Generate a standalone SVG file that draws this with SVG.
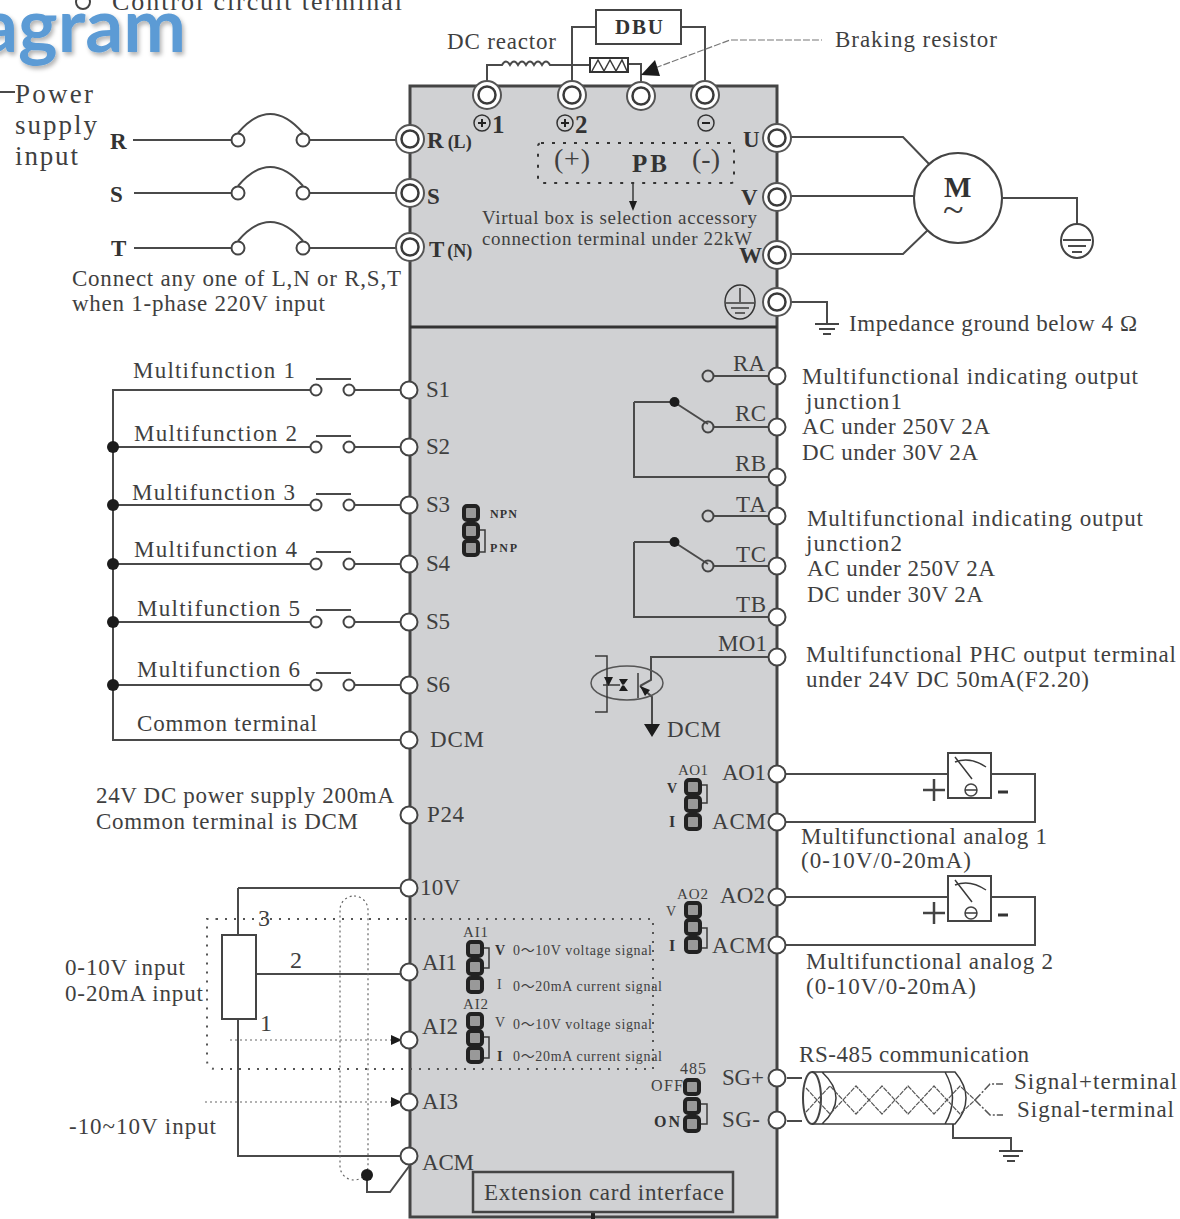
<svg xmlns="http://www.w3.org/2000/svg" width="1180" height="1219" viewBox="0 0 1180 1219" font-size="23">
<style>
text{font-family:"Liberation Serif","Noto Sans CJK SC",serif;fill:#3f3f3f}
.b{font-weight:bold;fill:#333}
.s{font-size:19px}
.xs{font-size:14px}
.w{fill:none;stroke:#4a4a4a;stroke-width:2}
.t{fill:none;stroke:#3a3a3a;stroke-width:1.5}
.dot{fill:none;stroke:#555;stroke-width:2;stroke-dasharray:2 7}
.fine{fill:none;stroke:#666;stroke-width:1.2;stroke-dasharray:2 3}
.blk{fill:#1c1c1c}
</style>
<defs>
<filter id="sh" x="-10%" y="-10%" width="120%" height="130%"><feDropShadow dx="2" dy="3" stdDeviation="2" flood-color="#000" flood-opacity=".3"/></filter>
<g id="t2"><circle r="14" fill="#fff" stroke="#555" stroke-width="2"/><circle r="8.5" fill="#fff" stroke="#3a3a3a" stroke-width="2.5"/></g>
<circle id="t1" r="8.5" fill="#fff" stroke="#444" stroke-width="2"/>
<circle id="c" r="6.5" fill="#fff" stroke="#444" stroke-width="2"/>
<circle id="cs" r="5.5" fill="none" stroke="#444" stroke-width="2"/>
<g id="sq"><rect x="-7" y="-7" width="14" height="14" rx="3" fill="#999" stroke="#222" stroke-width="4"/></g>
<g id="meter"><rect x="0" y="0" width="43" height="45" fill="#fff" stroke="#444" stroke-width="2"/><path d="M7 9Q22 3 38 14M7 4L24 26" class="t"/><circle cx="23" cy="37" r="6" fill="none" stroke="#444" stroke-width="1.5"/><path d="M17 37H29" class="t"/></g>
<g id="gnd"><path d="M-12 0H12M-8 5H8M-4 10H4" fill="none" stroke="#444" stroke-width="2"/></g>
</defs>

<g id="title">
<text x="-20" y="52" style="font-family:Lato,'Open Sans',sans-serif;font-weight:bold;font-size:75px;fill:#5b9bd5" filter="url(#sh)">agram</text>
<circle cx="83" cy="2" r="7" fill="#fff" stroke="#444" stroke-width="2"/>
<text x="112" y="10" font-size="26" textLength="290">Control circuit terminal</text>
</g>

<g id="inverter-panel">
<rect x="410" y="86" width="367" height="1131" fill="#d0d1d3" stroke="#444" stroke-width="3"/>
<path d="M410 327H777" stroke="#333" stroke-width="3" fill="none"/>
<path d="M593 1212V1219" stroke="#222" stroke-width="4" fill="none"/>
</g>

<g id="connectors">
<path class="w" d="M0 92H15"/>
<path class="w" d="M133 140H231M310 140H397M134 193H231M310 193H397M134 248H231M310 248H397"/>
<path class="w" d="M238 133Q270 95 303 133M238 186Q270 148 303 186M238 241Q270 203 303 241"/>
<path class="w" d="M487 82V65H502q4-7 8 0q4-7 8 0q4-7 8 0q4-7 8 0q4-7 8 0q4-7 8 0H590M628 64H641V82"/>
<path class="w" d="M596 27H572V82M681 27H705V82"/>
<path d="M655 68L730 40H822" fill="none" stroke="#777" stroke-width="1.2" stroke-dasharray="7 2"/>
<path class="w" d="M791 137H903L930 165M791 196H914M791 254H903L930 228"/>
<path class="w" d="M1003 198H1077V225M791 302H827V323"/>
<path class="w" d="M400 390H355M310 390H113V740H400M400 447H355M310 447H113M400 505H355M310 505H113M400 564H355M310 564H113M400 622H355M310 622H113M400 685H355M310 685H113"/>
<path class="w" d="M316 379H351M316 436H351M316 494H351M316 552H351M316 610H351M316 673H351"/>
<path class="w" d="M768 376H714M768 427H714M674 402L708 424M634 402H674M634 402V477H768M768 516H714M768 566H714M674 542L708 564M634 542H674M634 542V617H768"/>
<path class="w" d="M768 657H651V680L640 686M640 686L652 697V725"/>
<path class="w" d="M238 888H400M238 888V935M256 974H400M238 1019V1156H400M367 1175V1192H390L410 1165"/>
<path class="dot" d="M216 919H653V1069H216Q207 1069 207 1060V919H216"/>
<rect class="fine" x="340" y="896" width="28" height="284" rx="14"/>
<path class="fine" d="M230 1040H392M205 1102H392"/>
<path class="blk" d="M391 1035L402 1040L391 1045ZM391 1097L402 1102L391 1107Z"/>
<path class="w" d="M786 774H948M991 774H1035V822H786M786 897H948M991 897H1035V945H786"/>
<path class="w" d="M787 1078H802M787 1121H802M953 1124V1138H1011V1150"/>
<path d="M975 1100L990 1084H1003M975 1100L990 1115H1003" fill="none" stroke="#555" stroke-width="1.500" stroke-dasharray="8 2 2 2"/>
</g>

<g id="mains-R"><use href="#c" x="238" y="140"/><use href="#c" x="303" y="140"/><text x="110" y="149" class="b">R</text><use href="#t2" x="410" y="139"/><text x="427" y="148" class="b">R<tspan dx="4" font-size="18">(L)</tspan></text></g>
<g id="mains-S"><use href="#c" x="238" y="193"/><use href="#c" x="303" y="193"/><text x="110" y="202" class="b">S</text><use href="#t2" x="410" y="193"/><text x="427" y="204" class="b">S</text></g>
<g id="mains-T"><use href="#c" x="238" y="248"/><use href="#c" x="303" y="248"/><text x="111" y="256" class="b">T</text><use href="#t2" x="410" y="247"/><text x="429" y="257" class="b">T<tspan dx="3" font-size="18">(N)</tspan></text></g>
<g id="power-label"><text x="15" y="103" font-size="27" textLength="78">Power</text><text x="15" y="134" font-size="27" textLength="82">supply</text><text x="15" y="165" font-size="27" textLength="63">input</text>
<text x="72" y="286" font-size="23" textLength="329">Connect any one of  L,N or R,S,T</text><text x="72" y="311" font-size="23" textLength="253">when 1-phase 220V input</text></g>

<g id="dc-reactor"><text x="447" y="49" font-size="23" textLength="109">DC reactor</text></g>
<g id="braking-resistor"><rect x="590" y="58" width="38" height="14" fill="#fff" stroke="#333" stroke-width="2"/><path class="t" d="M592 71L598 60L604 71L610 60L616 71L622 60L627 71"/><path class="blk" d="M641 75L660 76L655 60Z"/><text x="835" y="47" font-size="23" textLength="162">Braking resistor</text></g>
<g id="dbu"><rect x="596" y="10" width="85" height="34" fill="#fff" stroke="#444" stroke-width="2"/><text x="615" y="34" class="b" font-size="21" textLength="48">DBU</text></g>

<g id="term-p1"><use href="#t2" x="487" y="95"/><circle cx="482" cy="123" r="8" fill="none" stroke="#333" stroke-width="1.500"/><path d="M478 123H486M482 119V127" stroke="#222" stroke-width="2"/><text x="492" y="133" class="b" font-size="25">1</text></g>
<g id="term-p2"><use href="#t2" x="572" y="95"/><circle cx="565" cy="123" r="8" fill="none" stroke="#333" stroke-width="1.500"/><path d="M561 123H569M565 119V127" stroke="#222" stroke-width="2"/><text x="575" y="133" class="b" font-size="25">2</text></g>
<g id="term-pb"><use href="#t2" x="641" y="96"/></g>
<g id="term-n"><use href="#t2" x="705" y="95"/><circle cx="706" cy="123" r="8" fill="none" stroke="#333" stroke-width="1.500"/><path d="M702 123H710" stroke="#222" stroke-width="2"/></g>

<g id="virtual-box">
<rect x="538" y="143" width="196" height="40" rx="3" fill="none" stroke="#333" stroke-width="2" stroke-dasharray="3 8"/>
<text x="554" y="168" font-size="28" textLength="36">(+)</text><text x="632" y="172" class="b" font-size="25" textLength="35">PB</text><text x="692" y="168" font-size="28" textLength="28">(-)</text>
<path class="t" d="M633 184V203"/><path class="blk" d="M629 201H637L633 211Z"/>
<text x="482" y="224" class="s" textLength="275">Virtual box is selection accessory</text><text x="482" y="245" class="s" textLength="270">connection terminal under 22kW</text>
</g>

<g id="term-U"><use href="#t2" x="777" y="138"/><text x="743" y="147" class="b">U</text></g>
<g id="term-V"><use href="#t2" x="777" y="197"/><text x="741" y="205" class="b">V</text></g>
<g id="term-W"><use href="#t2" x="777" y="255"/><text x="739" y="263" class="b">W</text></g>
<g id="term-PE"><use href="#t2" x="777" y="302"/><ellipse cx="740" cy="302" rx="15" ry="17" fill="none" stroke="#333" stroke-width="1.500"/><path class="t" d="M740 288V302M726 303H754M731 308H749M735 313H745"/><use href="#gnd" x="827" y="324"/><text x="849" y="331" font-size="23" textLength="288">Impedance ground below 4 Ω</text></g>
<g id="motor"><ellipse cx="958" cy="198" rx="44" ry="45" fill="#fff" stroke="#444" stroke-width="2"/><text x="944" y="197" class="b" font-size="29">M</text><text x="943" y="222" font-size="38">~</text></g>
<g id="motor-ground"><ellipse cx="1077" cy="241" rx="16" ry="17" fill="none" stroke="#444" stroke-width="2"/><path class="w" d="M1063 240H1091M1068 246H1086M1072 252H1082"/></g>

<g id="S1"><use href="#cs" x="316" y="390"/><use href="#cs" x="349" y="390"/><use href="#t1" x="409" y="390"/><text x="133" y="378" font-size="23" textLength="162">Multifunction  1</text><text x="426" y="397" font-size="23" textLength="24">S1</text></g>
<g id="S2"><use href="#cs" x="316" y="447"/><use href="#cs" x="349" y="447"/><use href="#t1" x="409" y="447"/><circle class="blk" cx="113" cy="447" r="6"/><text x="134" y="441" font-size="23" textLength="163">Multifunction  2</text><text x="426" y="454" font-size="23" textLength="24">S2</text></g>
<g id="S3"><use href="#cs" x="316" y="505"/><use href="#cs" x="349" y="505"/><use href="#t1" x="409" y="505"/><circle class="blk" cx="113" cy="505" r="6"/><text x="132" y="500" font-size="23" textLength="163">Multifunction  3</text><text x="426" y="512" font-size="23" textLength="24">S3</text></g>
<g id="S4"><use href="#cs" x="316" y="564"/><use href="#cs" x="349" y="564"/><use href="#t1" x="409" y="564"/><circle class="blk" cx="113" cy="564" r="6"/><text x="134" y="557" font-size="23" textLength="163">Multifunction  4</text><text x="426" y="571" font-size="23" textLength="24">S4</text></g>
<g id="S5"><use href="#cs" x="316" y="622"/><use href="#cs" x="349" y="622"/><use href="#t1" x="409" y="622"/><circle class="blk" cx="113" cy="622" r="6"/><text x="137" y="616" font-size="23" textLength="163">Multifunction  5</text><text x="426" y="629" font-size="23" textLength="24">S5</text></g>
<g id="S6"><use href="#cs" x="316" y="685"/><use href="#cs" x="349" y="685"/><use href="#t1" x="409" y="685"/><circle class="blk" cx="113" cy="685" r="6"/><text x="137" y="677" font-size="23" textLength="163">Multifunction  6</text><text x="426" y="692" font-size="23" textLength="24">S6</text></g>
<g id="DCM"><use href="#t1" x="409" y="740"/><text x="137" y="731" font-size="23" textLength="180">Common terminal</text><text x="430" y="747" font-size="23" textLength="54">DCM</text></g>
<g id="P24"><use href="#t1" x="409" y="815"/><text x="96" y="803" font-size="23" textLength="298">24V DC power supply 200mA</text><text x="96" y="829" font-size="23" textLength="262">Common terminal is DCM</text><text x="427" y="822" font-size="23" textLength="37">P24</text></g>

<g id="npn-jumper"><use href="#sq" x="471" y="513"/><use href="#sq" x="471" y="531"/><use href="#sq" x="471" y="548"/><path class="t" d="M480 530H485V552H480"/><text x="490" y="518" class="b" font-size="12" textLength="27">NPN</text><text x="490" y="552" class="b" font-size="12" textLength="27">PNP</text></g>

<g id="R1-relay"><use href="#cs" x="708" y="376"/><use href="#cs" x="708" y="427"/><circle class="blk" cx="674.500" cy="402" r="5"/>
<use href="#t1" x="777" y="376"/><use href="#t1" x="777" y="427"/><use href="#t1" x="777" y="477"/>
<text x="733" y="371" textLength="32">RA</text><text x="735" y="421" textLength="31">RC</text><text x="735" y="471" textLength="31">RB</text>
<text x="802" y="384" font-size="23" textLength="336">Multifunctional indicating output</text><text x="806" y="409" font-size="23" textLength="96">junction1</text><text x="802" y="434" font-size="23" textLength="188">AC under 250V 2A</text><text x="802" y="460" font-size="23" textLength="176">DC under 30V 2A</text></g>
<g id="T-relay"><use href="#cs" x="708" y="516"/><use href="#cs" x="708" y="566"/><circle class="blk" cx="674.500" cy="542" r="5"/>
<use href="#t1" x="777" y="516"/><use href="#t1" x="777" y="566"/><use href="#t1" x="777" y="617"/>
<text x="736" y="512" textLength="30">TA</text><text x="736" y="562" textLength="30">TC</text><text x="736" y="612" textLength="30">TB</text>
<text x="807" y="526" font-size="23" textLength="336">Multifunctional indicating output</text><text x="806" y="551" font-size="23" textLength="96">junction2</text><text x="807" y="576" font-size="23" textLength="188">AC under 250V 2A</text><text x="807" y="602" font-size="23" textLength="176">DC under 30V 2A</text></g>
<g id="MO1"><use href="#t1" x="777" y="657"/>
<ellipse cx="627" cy="683" rx="36" ry="17" fill="none" stroke="#555" stroke-width="1.500"/>
<path class="t" d="M595 656H607V712H595M603 685H620M638 673V698"/>
<path class="blk" d="M604 677H613L608.500 686ZM619 679L628 679L623 686ZM619 691H628L623 684ZM640 686L650 690L645 696Z M644 724H660L652 737Z"/>
<text x="718" y="651" textLength="49">MO1</text>
<text x="667" y="737" font-size="23" textLength="54">DCM</text>
<text x="806" y="662" font-size="23" textLength="370">Multifunctional PHC output terminal</text><text x="806" y="687" font-size="23" textLength="283">under 24V DC 50mA(F2.20)</text></g>

<g id="AO1"><use href="#sq" x="693" y="787"/><use href="#sq" x="693" y="804"/><use href="#sq" x="693" y="822"/><path class="t" d="M702 785H707V803H702"/><text x="678" y="775" font-size="15" textLength="30">AO1</text><text x="667" y="793" class="xs b">V</text><text x="669" y="827" class="b" font-size="16">I</text>
<use href="#t1" x="777" y="774"/><use href="#t1" x="777" y="822"/><text x="722" y="780" textLength="44">AO1</text><text x="712" y="829" textLength="54">ACM</text>
<use href="#meter" x="948" y="753"/><path d="M923 790H945M934 779V801" stroke="#444" stroke-width="2.500"/><path d="M998 792H1008" stroke="#333" stroke-width="3"/>
<text x="801" y="844" font-size="23" textLength="246">Multifunctional analog 1</text><text x="801" y="868" font-size="23" textLength="170">(0-10V/0-20mA)</text></g>
<g id="AO2"><use href="#sq" x="693" y="910"/><use href="#sq" x="693" y="927"/><use href="#sq" x="693" y="945"/><path class="t" d="M702 928H707V948H702"/><text x="677" y="899" font-size="15" textLength="31">AO2</text><text x="666" y="916" class="xs">V</text><text x="669" y="951" class="b" font-size="16">I</text>
<use href="#t1" x="777" y="897"/><use href="#t1" x="777" y="945"/><text x="720" y="903" textLength="45">AO2</text><text x="712" y="953" textLength="54">ACM</text>
<use href="#meter" x="948" y="876"/><path d="M923 913H945M934 902V924" stroke="#444" stroke-width="2.500"/><path d="M998 915H1008" stroke="#333" stroke-width="3"/>
<text x="806" y="969" font-size="23" textLength="247">Multifunctional analog 2</text><text x="806" y="994" font-size="23" textLength="170">(0-10V/0-20mA)</text></g>

<g id="potentiometer"><rect x="222" y="935" width="34" height="84" fill="#fff" stroke="#444" stroke-width="2"/><text x="258" y="926" font-size="24">3</text><text x="290" y="968" font-size="24">2</text><text x="260" y="1031" font-size="24">1</text>
<text x="65" y="975" font-size="23" textLength="120">0-10V input</text><text x="65" y="1001" font-size="23" textLength="138">0-20mA input</text><text x="69" y="1134" font-size="23" textLength="147">-10~10V input</text></g>
<g id="T10V"><use href="#t1" x="409" y="888"/><text x="420" y="895" font-size="23" textLength="40">10V</text></g>
<g id="AI1"><use href="#t1" x="409" y="972"/><text x="422" y="970" textLength="35">AI1</text><use href="#sq" x="475" y="949"/><use href="#sq" x="475" y="967"/><use href="#sq" x="475" y="985"/><path class="t" d="M484 948H489V968H484"/><text x="463" y="937" font-size="15" textLength="25">AI1</text><text x="495" y="955" class="xs b">V</text><text x="497" y="989" class="xs">I</text><text x="513" y="955" class="xs" textLength="139">0〜10V voltage signal</text><text x="513" y="991" class="xs" textLength="149">0〜20mA current signal</text></g>
<g id="AI2"><use href="#t1" x="409" y="1040"/><text x="422" y="1034" textLength="36">AI2</text><use href="#sq" x="475" y="1021"/><use href="#sq" x="475" y="1038"/><use href="#sq" x="475" y="1055"/><path class="t" d="M484 1037H489V1058H484"/><text x="463" y="1009" font-size="15" textLength="25">AI2</text><text x="495" y="1027" class="xs">V</text><text x="497" y="1061" class="xs b">I</text><text x="513" y="1029" class="xs" textLength="139">0〜10V voltage signal</text><text x="513" y="1061" class="xs" textLength="149">0〜20mA current signal</text></g>
<g id="AI3"><use href="#t1" x="409" y="1102"/><text x="422" y="1109" textLength="36">AI3</text></g>
<g id="ACM-left"><use href="#t1" x="409" y="1156"/><circle class="blk" cx="367" cy="1175" r="6"/><text x="422" y="1170" textLength="52">ACM</text></g>
<g id="extension-card"><rect x="473" y="1172" width="260" height="40" fill="none" stroke="#444" stroke-width="2.500"/><text x="484" y="1200" font-size="23" textLength="240">Extension card interface</text></g>

<g id="rs485-switch"><use href="#sq" x="692" y="1087"/><use href="#sq" x="692" y="1106"/><use href="#sq" x="692" y="1124"/><path class="t" d="M701 1104H707V1124H701"/><text x="680" y="1074" font-size="16" textLength="26">485</text><text x="651" y="1091" font-size="16" textLength="32">OFF</text><text x="654" y="1127" class="b" font-size="16" textLength="26">ON</text></g>
<g id="SG"><use href="#t1" x="777" y="1078"/><use href="#t1" x="777" y="1120"/><text x="722" y="1085" textLength="42">SG+</text><text x="722" y="1127" textLength="38">SG-</text></g>
<g id="rs485-cable">
<ellipse cx="812" cy="1098" rx="9" ry="26" fill="none" stroke="#444" stroke-width="2"/>
<path class="t" d="M812 1072H955Q966 1085 966 1098Q966 1112 955 1124H812M822 1072Q850 1098 822 1124M945 1072Q960 1098 945 1124"/>
<path d="M806 1112L817 1100L830 1086L856 1114L882 1086L908 1114L934 1086L960 1114L975 1100M806 1088L817 1100L830 1114L856 1086L882 1114L908 1086L934 1114L960 1086L975 1100" fill="none" stroke="#555" stroke-width="1.200" stroke-dasharray="5 1"/>
<use href="#gnd" x="1011" y="1151"/>
<text x="799" y="1062" font-size="23" textLength="230">RS-485 communication</text><text x="1014" y="1089" font-size="23" textLength="163">Signal+terminal</text><text x="1017" y="1117" font-size="23" textLength="157">Signal-terminal</text>
</g>
</svg>
